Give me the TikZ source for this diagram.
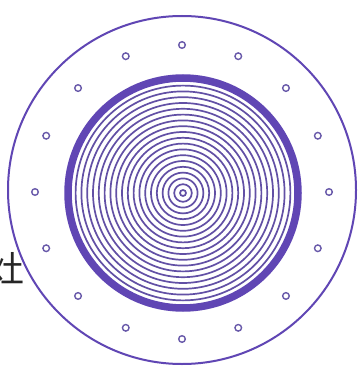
\documentclass[tikz,border=0pt]{standalone}
\usepackage{fontspec}
\usetikzlibrary{calc}
\newfontfamily\cjk{Noto Sans CJK SC}
\definecolor{ringc}{RGB}{96,70,180}
\definecolor{linec}{RGB}{98,80,165}
\definecolor{holec}{RGB}{105,90,170}
\tikzset{
  outerring/.style={draw=ringc, line width=2pt},
  thickring/.style={draw=ringc, line width=7.5pt},
  coil/.style={draw=linec, line width=1.7pt},
  hole/.style={draw=holec, line width=1.4pt},
  label/.style={inner sep=0pt, font=\cjk\fontsize{36}{36}\selectfont, text=black!85}
}
\begin{document}
\begin{tikzpicture}[x=1pt,y=-1pt]
\useasboundingbox (0,0) rectangle (357,366);
\clip (0,0) rectangle (357,366);
\fill[white] (0,0) rectangle (357,366);
% label
\node[label, anchor=base east] (zao) at (25,282) {灶};
% outer plate
\draw[outerring] (182,190) circle[radius=174pt];
% holes
\foreach \k in {0,...,15}{
  \draw[hole] ($(182,192)+({90+22.5*\k}:147pt)$) circle[radius=3.3pt];
}
% thick burner rim
\draw[thickring] (183,193) circle[radius=115pt];
% concentric coil
\foreach \k in {0,...,18}{
  \draw[coil] (183,193) circle[radius={(3+5.8*\k)*1pt}];
}
\end{tikzpicture}
\end{document}
